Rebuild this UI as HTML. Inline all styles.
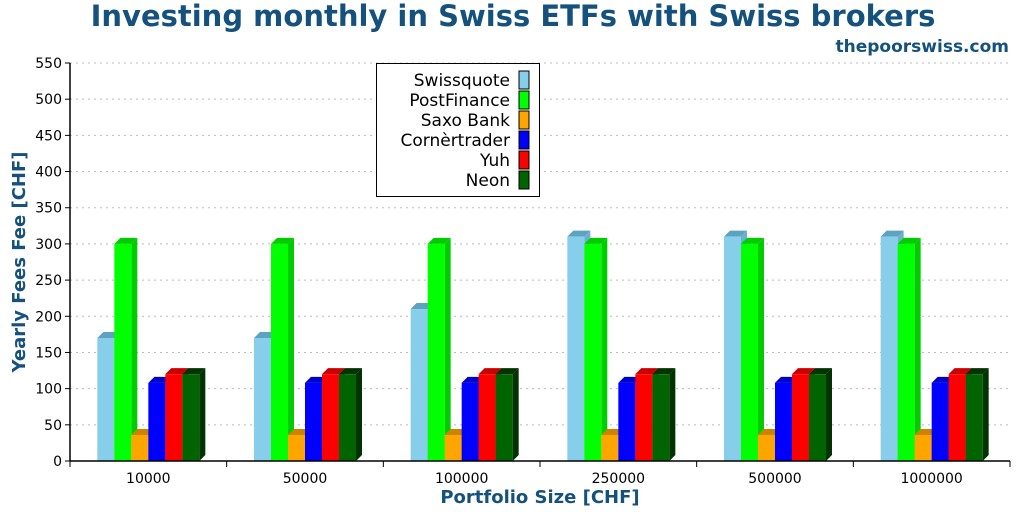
<!DOCTYPE html>
<html><head><meta charset="utf-8"><style>
body{margin:0;background:#fff;font-family:"DejaVu Sans","Liberation Sans",sans-serif}
svg{display:block}
</style></head><body>
<svg id="chart" width="1024" height="512" xmlns="http://www.w3.org/2000/svg" font-family="DejaVu Sans, Liberation Sans, sans-serif">
<text x="513" y="26" text-anchor="middle" font-size="29" font-weight="bold" fill="#14527d">Investing monthly in Swiss ETFs with Swiss brokers</text>
<text x="1009" y="52" text-anchor="end" font-size="17" font-weight="bold" fill="#14527d">thepoorswiss.com</text>
<g id="grid"></g>
<g id="bars"></g>
<g id="axes"></g>
<text transform="translate(25,262) rotate(-90)" text-anchor="middle" font-size="18" font-weight="bold" fill="#14527d">Yearly Fees Fee [CHF]</text>
<text x="540" y="503" text-anchor="middle" font-size="18" font-weight="bold" fill="#14527d">Portfolio Size [CHF]</text>
<g id="legend"></g>
</svg>
<script>
const categories=["10000","50000","100000","250000","500000","1000000"];
const seriesNames=["Swissquote","PostFinance","Saxo Bank","Cornèrtrader","Yuh","Neon"];
const swissquote=[170,170,210,310,310,310];
const postfinance=[300,300,300,300,300,300];
const saxo=[36,36,36,36,36,36];
const corner=[108,108,108,108,108,108];
const yuh=[120,120,120,120,120,120];
const neon=[120,120,120,120,120,120];
const yTicks=[0,50,100,150,200,250,300,350,400,450,500,550];
const series=[swissquote,postfinance,saxo,corner,yuh,neon];
const colors=["#87ceeb","#00ff00","#ffa500","#0000ff","#ff0000","#006400"];
const tops=["#5ba3c0","#00cc00","#cc8400","#0000cc","#cc0000","#003300"];
const sides=["#6cb0cc","#00cc00","#cc8400","#0000cc","#cc0000","#003300"];
const NS="http://www.w3.org/2000/svg";
const X0=70,X1=1010,Y0=461,Y1=63,YMAX=550;
const y=v=>Y0-(v/YMAX)*(Y0-Y1);
const gw=(X1-X0)/categories.length;
const xc=i=>X0+gw*(i+0.5);
function mk(tag,attrs,parent){const e=document.createElementNS(NS,tag);for(const k in attrs)e.setAttribute(k,attrs[k]);parent.appendChild(e);return e;}
const grid=document.getElementById('grid'),bars=document.getElementById('bars'),axes=document.getElementById('axes'),legend=document.getElementById('legend');
yTicks.forEach(t=>{
  if(t>0){const l=mk('line',{x1:X0,x2:X1,y1:y(t),y2:y(t),stroke:'#bbb','stroke-dasharray':'2,4'},grid);
  
  }
  const tk=mk('line',{x1:X0-5,x2:X0,y1:y(t),y2:y(t),stroke:'#000'},axes);
  
  
  const tx=mk('text',{x:X0-8,y:y(t)+5,'text-anchor':'end','font-size':'14'},axes);
  tx.textContent=t;
  
  
});
const bw=17,d=6;
categories.forEach((c,i)=>{
  series.forEach((s,j)=>{
    const x=xc(i)-51+j*bw,top=y(s[i]);
    const g=mk('g',{},bars);
    
    
    mk('polygon',{points:`${x+bw},${top} ${x+bw+d},${top-d} ${x+bw+d},${Y0-d} ${x+bw},${Y0}`,fill:sides[j]},g);
    mk('polygon',{points:`${x},${top} ${x+d},${top-d} ${x+bw+d},${top-d} ${x+bw},${top}`,fill:tops[j]},g);
    mk('rect',{x:x,y:top,width:bw,height:Y0-top,fill:colors[j]},g);
  });
  const tx=mk('text',{x:xc(i),y:Y0+22,'text-anchor':'middle','font-size':'14'},axes);
  tx.textContent=c;
  
  
});
for(let i=0;i<=categories.length;i++){const tk=mk('line',{x1:X0+gw*i,x2:X0+gw*i,y1:Y0,y2:Y0+6,stroke:'#000'},axes);
  
  }
const ya=mk('line',{x1:X0,x2:X0,y1:Y1,y2:Y0,stroke:'#000','stroke-width':1.5},axes);


const xa=mk('line',{x1:X0,x2:X1,y1:Y0,y2:Y0,stroke:'#000','stroke-width':1.5},axes);


const lb=mk('rect',{x:376.5,y:63.5,width:163,height:133,fill:'#fff',stroke:'#000'},legend);


seriesNames.forEach((n,j)=>{
  const yy=71+j*20;
  const g=mk('g',{},legend);
  
  
  mk('rect',{x:519,y:yy,width:10,height:18,fill:colors[j],stroke:'#000'},g);
  const t=mk('text',{x:510,y:yy+15,'text-anchor':'end','font-size':'17'},g);
  t.textContent=n;
});
</script>
</body></html>
